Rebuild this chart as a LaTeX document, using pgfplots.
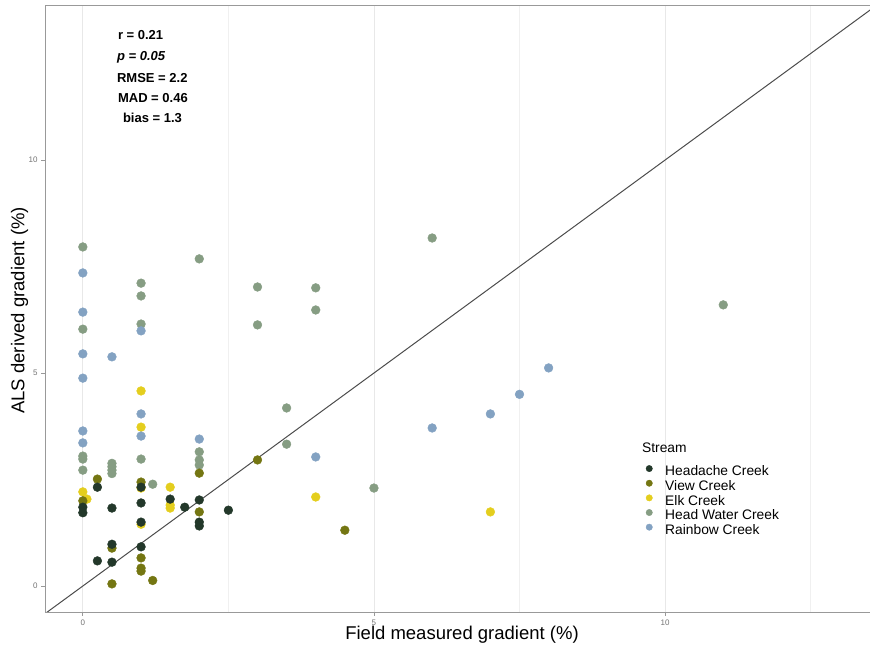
\documentclass[border=0pt]{standalone}
\usepackage{pgfplots}
\pgfplotsset{compat=1.18}
\usepackage{fontspec}
\setmainfont{Liberation Sans}
\definecolor{cHead}{RGB}{35,56,42}
\definecolor{cView}{RGB}{116,118,18}
\definecolor{cElk}{RGB}{228,206,30}
\definecolor{cHW}{RGB}{134,157,131}
\definecolor{cRain}{RGB}{131,162,194}
\begin{document}
\begin{tikzpicture}
\path[use as bounding box] (-45pt,-38pt) rectangle (825pt,607pt+5pt);
\begin{axis}[
  at={(0,0)}, anchor=south west,
  scale only axis, width=825pt, height=607pt,
  xmin=-0.65, xmax=13.52, ymin=-0.61, ymax=13.64,
  xtick={0,5,10}, ytick={0,5,10},
  minor xtick={2.5,7.5,12.5},
  xmajorgrids, xminorgrids,
  major grid style={color=black!9, line width=0.8pt},
  minor grid style={color=black!6, line width=0.8pt},
  axis line style={color=black!40, line width=0.8pt},
  xtick pos=bottom, ytick pos=left,
  tick align=outside, major tick length=4pt, minor tick length=0pt,
  tick style={color=black!40, line width=0.8pt},
  ticklabel style={font=\fontsize{8}{9}\selectfont, text=black!55},
  /pgf/number format/assume math mode=true,
  xlabel={Field measured gradient (\%)},
  ylabel={ALS derived gradient (\%)},
  label style={font=\fontsize{18.5}{21}\selectfont},
  xlabel style={at={(axis description cs:0.5055,0)}, anchor=center, yshift=-23pt},
  ylabel style={at={(axis description cs:-0.0309,0.497)}, anchor=center},
  legend style={at={(axis description cs:0.7261,0.2422)}, anchor=north west,
    draw=none, fill=none, font=\fontsize{13.8}{15}\selectfont, row sep=2.6pt,
    inner sep=0pt, nodes={inner sep=0pt},
    /tikz/every odd column/.style={column sep=0pt}},
  legend cell align=left,
  legend image code/.code={\fill[#1] (4pt,2.9pt) circle (3.2pt); \path[draw=none,fill=none] (-1pt,3.8pt) -- (20pt,3.8pt);},
  every axis plot/.append style={only marks, mark=*, mark size=4.4pt},
]
\addlegendimage{color=cHead}
\addlegendentry{Headache Creek}
\addlegendimage{color=cView}
\addlegendentry{View Creek}
\addlegendimage{color=cElk}
\addlegendentry{Elk Creek}
\addlegendimage{color=cHW}
\addlegendentry{Head Water Creek}
\addlegendimage{color=cRain}
\addlegendentry{Rainbow Creek}

\addplot[forget plot, color=cElk, mark options={draw=cElk, fill=cElk}] coordinates {
(0,2.21) (0.07,2.04) (1,4.58) (1,3.73) (1,2.30) (1,1.45) (1.5,2.32) (1.5,1.90) (1.5,1.83) (4,2.09) (7,1.74)};
\addplot[forget plot, color=cHW, mark options={draw=cHW, fill=cHW}] coordinates {
(0,7.96) (0,6.03) (0,3.05) (0,2.98) (0,2.72) (0.5,2.88) (0.5,2.80) (0.5,2.72) (0.5,2.64)
(1,7.11) (1,6.81) (1,6.15) (1,2.98) (1.2,2.39) (2,7.68) (2,3.15) (2,2.96) (2,2.84)
(3,7.02) (3,6.13) (3.5,4.18) (3.5,3.33) (4,7.00) (4,6.48) (5,2.30) (6,8.17) (11,6.60)};
\addplot[forget plot, color=cRain, mark options={draw=cRain, fill=cRain}] coordinates {
(0,7.35) (0,6.43) (0,5.45) (0,4.88) (0,3.64) (0,3.36) (0.5,5.38) (1,5.99) (1,4.04) (1,3.52)
(2,3.45) (4,3.03) (6,3.71) (7,4.04) (7.5,4.50) (8,5.12)};
\addplot[forget plot, color=cView, mark options={draw=cView, fill=cView}] coordinates {
(0,2.00) (0.25,2.51) (0.5,0.89) (0.5,0.05) (1,2.44) (1,0.66) (1,0.42) (1,0.35) (1.2,0.13)
(2,2.65) (2,1.74) (3,2.96) (4.5,1.31)};
\addplot[forget plot, color=cHead, mark options={draw=cHead, fill=cHead}] coordinates {
(0,1.85) (0,1.72) (0.25,2.32) (0.25,0.59) (0.5,1.83) (0.5,0.98) (0.5,0.56)
(1,2.32) (1,1.95) (1,1.50) (1,0.92) (1.5,2.04) (1.75,1.85) (2,2.02) (2,1.50) (2,1.41) (2.5,1.78)};
\addplot[forget plot, no marks, sharp plot, color=black!70, line width=1pt] coordinates {(-1,-1) (14,14)};

\node[font=\fontsize{13}{15}\selectfont\bfseries, anchor=west, inner sep=0pt] at (axis cs:0.601,12.93) {r = 0.21};
\node[font=\fontsize{13}{15}\selectfont\bfseries\itshape, anchor=west, inner sep=0pt] at (axis cs:0.584,12.41) {p = 0.05};
\node[font=\fontsize{13}{15}\selectfont\bfseries, anchor=west, inner sep=0pt] at (axis cs:0.584,11.92) {RMSE = 2.2};
\node[font=\fontsize{13}{15}\selectfont\bfseries, anchor=west, inner sep=0pt] at (axis cs:0.601,11.46) {MAD = 0.46};
\node[font=\fontsize{13}{15}\selectfont\bfseries, anchor=west, inner sep=0pt] at (axis cs:0.687,10.99) {bias = 1.3};
\node[font=\fontsize{13.8}{15}\selectfont, anchor=west, inner sep=0pt] at (axis description cs:0.7236,0.2702) {Stream};
\end{axis}
\draw[black!40, line width=0.8pt] (0,607pt) -- (825pt,607pt);
\end{tikzpicture}
\end{document}
